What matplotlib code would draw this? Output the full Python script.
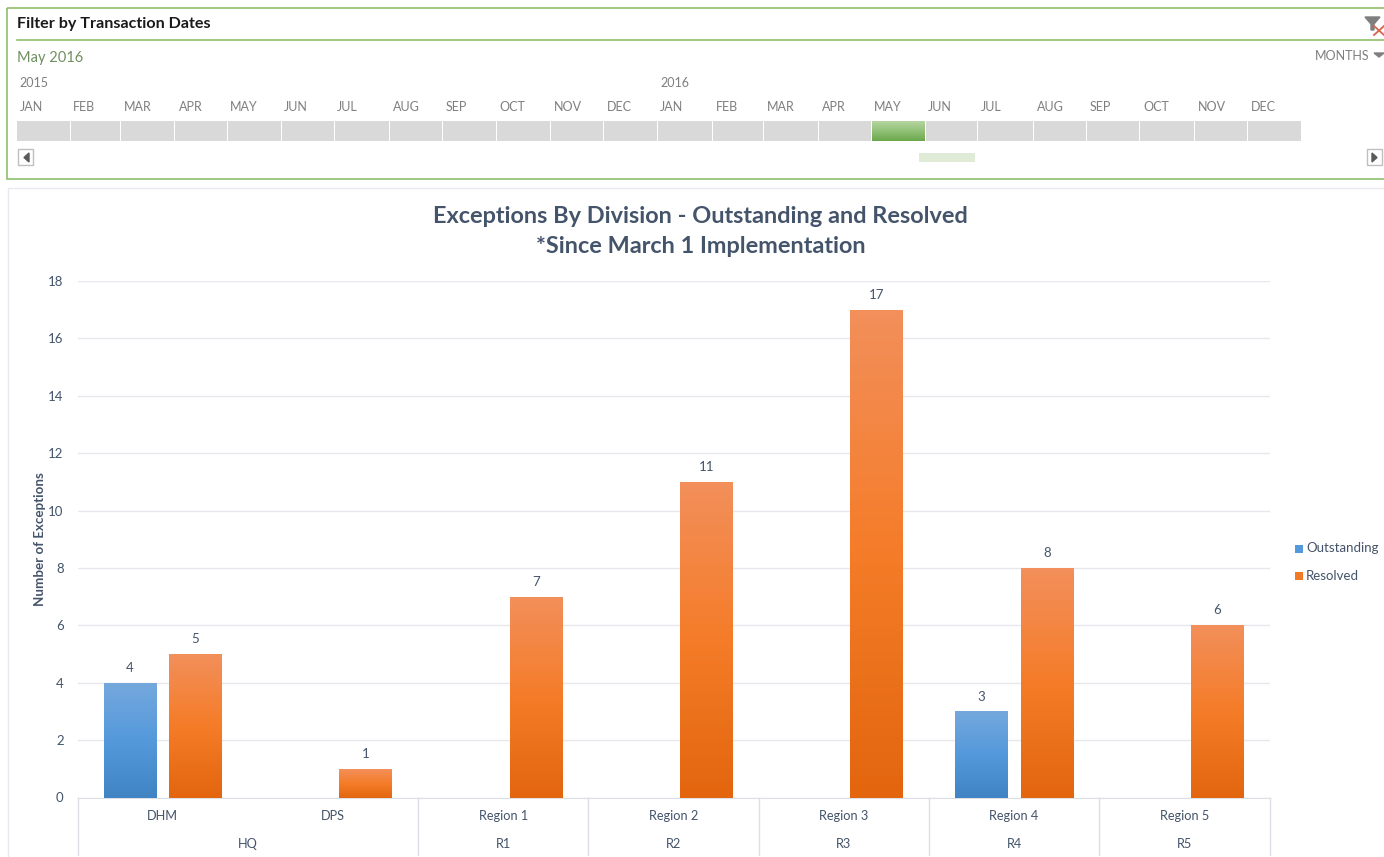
import numpy as np
import matplotlib
matplotlib.use("Agg")
import matplotlib.pyplot as plt
from matplotlib.colors import LinearSegmentedColormap
from matplotlib.patches import Rectangle, Polygon

plt.rcParams["font.family"] = ["Lato", "DejaVu Sans"]

W, H = 1384, 857

divisions = ["DHM", "DPS", "Region 1", "Region 2", "Region 3", "Region 4", "Region 5"]
groups = ["HQ", "R1", "R2", "R3", "R4", "R5"]
group_spans = [2, 1, 1, 1, 1, 1]
outstanding = [4, 0, 0, 0, 0, 3, 0]
resolved = [5, 1, 7, 11, 17, 8, 6]
y_ticks = [0, 2, 4, 6, 8, 10, 12, 14, 16, 18]

months = ["JAN", "FEB", "MAR", "APR", "MAY", "JUN", "JUL", "AUG", "SEP", "OCT", "NOV", "DEC"] * 2
month_x = [31, 84, 138, 191, 244, 296, 347, 406, 456, 512, 568, 619,
           672, 727, 781, 834, 888, 940, 991, 1050, 1100, 1156, 1212, 1263]
cell_edges = [17, 71, 121, 175, 228, 282, 335, 390, 443, 497, 551, 604, 658,
              713, 764, 819, 872, 926, 978, 1034, 1087, 1140, 1195, 1248, 1302]
selected_month = 16

text_dark = "#44546A"
grid_col = "#E6E8EE"
axis_col = "#DCDFE6"
green = "#8DBF6B"
month_col = "#7F7F7F"

fig = plt.figure(figsize=(W / 100, H / 100), dpi=100, facecolor="white")

# slicer and panel furniture, in pixel coordinates
ui = fig.add_axes([0, 0, 1, 1])
ui.set_xlim(0, W)
ui.set_ylim(H, 0)
ui.axis("off")

ui.add_patch(Rectangle((6.5, 8), W, 171, fill=False, ec=green, lw=1.2))
ui.plot([17, W], [40, 40], color=green, lw=1.2)
ui.add_patch(Rectangle((8, 187.5), W, H, fill=False, ec="#E8EAF0", lw=1))
ui.text(17, 23.5, "Filter by Transaction Dates", fontsize=11.6, fontweight="bold", color="#1A1A1A", va="center")
ui.text(17, 58, "May 2016", fontsize=10.5, color="#6F8F5F", va="center")
ui.text(1315, 55.5, "MONTHS", fontsize=9, color=month_col, va="center")
ui.add_patch(Polygon([(1374, 53), (1384, 53), (1379, 57)], color=month_col))
ui.text(19, 82.5, "2015", fontsize=9, color=month_col, va="center")
ui.text(660, 82.5, "2016", fontsize=9, color=month_col, va="center")

green_cmap = LinearSegmentedColormap.from_list("g", ["#B5D5A0", "#92C177", "#6AA84A"])
grad = np.linspace(0, 1, 64).reshape(-1, 1)
for i, name in enumerate(months):
    ui.text(month_x[i], 107, name, fontsize=9, color=month_col, ha="center", va="center")
    x0, x1 = cell_edges[i], cell_edges[i + 1] - 1
    if i == selected_month:
        ui.imshow(grad, extent=(x0, x1, 140.5, 121), cmap=green_cmap, aspect="auto", zorder=2)
    else:
        ui.add_patch(Rectangle((x0, 121), x1 - x0, 19.5, color="#D9D9D9", lw=0))
ui.set_xlim(0, W)
ui.set_ylim(H, 0)

ui.add_patch(Rectangle((919, 153), 56, 9, color="#DFEBD6", lw=0))
for bx, pts in [(18, [(29, 153), (29, 162), (24, 157.5)]),
                (1367, [(1372, 153), (1372, 162), (1377, 157.5)])]:
    ui.add_patch(Rectangle((bx, 149), 15, 16, fc="white", ec="#BFBFBF", lw=1))
    ui.add_patch(Polygon(pts, color="#595959"))

# clear filter icon
ui.add_patch(Polygon([(1365, 17), (1380, 17), (1374, 24), (1374, 30), (1371, 30), (1371, 24)], color="#7F7F7F"))
ui.plot([1374, 1384], [26, 35], color="#D9634C", lw=1.3)
ui.plot([1374, 1384], [35, 26], color="#D9634C", lw=1.3)

# chart
ax_l, ax_r, ax_t, ax_b = 77.5, 1269.5, 281, 797.5
ax = fig.add_axes([ax_l / W, 1 - ax_b / H, (ax_r - ax_l) / W, (ax_b - ax_t) / H])
ax.set_xlim(-0.5, 6.5)
ax.set_ylim(0, 18)
ax.patch.set_alpha(0)
for s in ["top", "right", "left"]:
    ax.spines[s].set_visible(False)
ax.spines["bottom"].set_color(axis_col)
ax.set_yticks(y_ticks)
ax.tick_params(axis="y", length=0, labelsize=9.5, labelcolor=text_dark, pad=10)
ax.set_xticks([])
ax.grid(axis="y", color=grid_col, lw=1)
ax.set_axisbelow(True)
ax.set_ylabel("Number of Exceptions", fontsize=9.6, fontweight="bold", color=text_dark, labelpad=1.5)

blue_cmap = LinearSegmentedColormap.from_list("b", ["#74A8DD", "#5499DB", "#4084C4"])
orange_cmap = LinearSegmentedColormap.from_list("o", ["#F28F5A", "#F57C28", "#E3660F"])
bar_w = 0.308
off = 0.192


def grad_bars(xs, vals, cmap):
    for x, v in zip(xs, vals):
        if v == 0:
            continue
        bar = ax.bar(x, v, bar_w, color="none", zorder=3)[0]
        im = ax.imshow(grad, extent=(x - bar_w / 2, x + bar_w / 2, 0, v), cmap=cmap,
                       aspect="auto", origin="upper", zorder=3)
        im.set_clip_path(bar)
        ax.text(x, v + 0.31, str(v), ha="center", va="bottom", fontsize=9.5, color=text_dark, zorder=4)


pos = np.arange(len(divisions))
grad_bars(pos - off, outstanding, blue_cmap)
grad_bars(pos + off, resolved, orange_cmap)
ax.set_xlim(-0.5, 6.5)
ax.set_ylim(0, 18)

# two level category axis
for i, name in enumerate(divisions):
    ax.annotate(name, (i, 0), xytext=(0, -18.5), textcoords="offset pixels", ha="center", va="center",
                fontsize=9.2, color=text_dark, annotation_clip=False)
start = 0
for name, span in zip(groups, group_spans):
    ax.annotate(name, (start + span / 2 - 0.5, 0), xytext=(0, -46.5), textcoords="offset pixels", ha="center",
                va="center", fontsize=9.2, color=text_dark, annotation_clip=False)
    start += span
edges = [-0.5] + list(np.cumsum(group_spans) - 0.5)
for e in edges:
    ui.plot([ax_l + (e + 0.5) * (ax_r - ax_l) / 7] * 2, [ax_b, 855], color=axis_col, lw=1)

ui.text(700.5, 216, "Exceptions By Division - Outstanding and Resolved", fontsize=16.9, fontweight="bold",
        color=text_dark, ha="center", va="center")
ui.text(701, 246.5, "*Since March 1 Implementation", fontsize=16.9, fontweight="bold",
        color=text_dark, ha="center", va="center")

# legend
ui.add_patch(Rectangle((1295, 545), 8, 8, color="#5499DB", lw=0))
ui.text(1306, 548.5, "Outstanding", fontsize=9.5, color=text_dark, va="center")
ui.add_patch(Rectangle((1295, 572), 8, 8, color="#F07A25", lw=0))
ui.text(1306, 575.5, "Resolved", fontsize=9.5, color=text_dark, va="center")

fig.savefig("out.png", dpi=100)
